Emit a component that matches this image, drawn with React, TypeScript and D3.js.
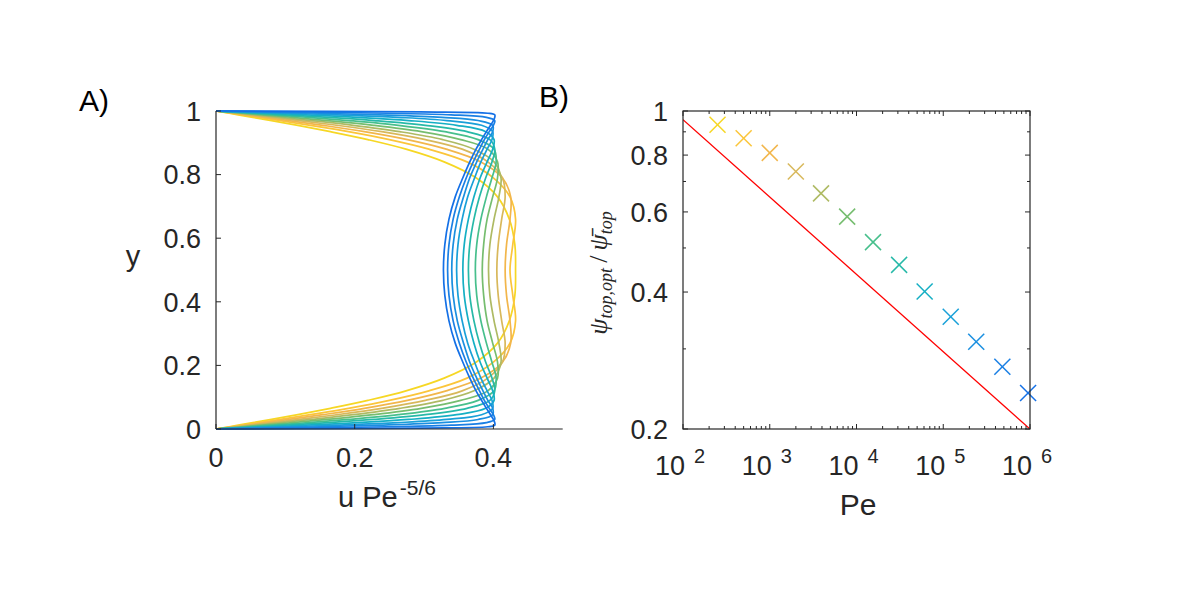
import React from 'react';
import * as d3 from 'd3';

// ---------- Panel A: velocity profiles ----------
// Wall-normal coordinate shared by every profile.
const Y_GRID = [0, 0.003, 0.007, 0.012, 0.02, 0.03, 0.045, 0.065, 0.09, 0.12, 0.16, 0.21, 0.27, 0.34, 0.42, 0.5,
  0.58, 0.66, 0.73, 0.79, 0.84, 0.88, 0.91, 0.935, 0.955, 0.97, 0.98, 0.988, 0.993, 0.997, 1];

// Scaled velocity u Pe^-5/6 at each Y_GRID point, one array per Péclet number.
const U_PE_250 = [0, 0.008, 0.019, 0.032, 0.053, 0.080, 0.118, 0.165, 0.219, 0.274, 0.329, 0.375, 0.406, 0.423, 0.431, 0.432,
  0.431, 0.423, 0.406, 0.375, 0.329, 0.274, 0.219, 0.165, 0.118, 0.080, 0.053, 0.032, 0.019, 0.008, 0];
const U_PE_500 = [0, 0.009, 0.022, 0.038, 0.062, 0.093, 0.136, 0.191, 0.250, 0.307, 0.362, 0.400, 0.424, 0.432, 0.428, 0.424,
  0.428, 0.432, 0.424, 0.400, 0.362, 0.307, 0.250, 0.191, 0.136, 0.093, 0.062, 0.038, 0.022, 0.009, 0];
const U_PE_1000 = [0, 0.011, 0.025, 0.043, 0.071, 0.105, 0.154, 0.214, 0.276, 0.332, 0.382, 0.413, 0.425, 0.424, 0.419, 0.417,
  0.419, 0.424, 0.425, 0.413, 0.382, 0.332, 0.276, 0.214, 0.154, 0.105, 0.071, 0.043, 0.025, 0.011, 0];
const U_PE_2000 = [0, 0.012, 0.029, 0.049, 0.081, 0.120, 0.175, 0.239, 0.302, 0.355, 0.392, 0.413, 0.417, 0.412, 0.407, 0.405,
  0.407, 0.412, 0.417, 0.413, 0.392, 0.355, 0.302, 0.239, 0.175, 0.120, 0.081, 0.049, 0.029, 0.012, 0];
const U_PE_4000 = [0, 0.014, 0.033, 0.057, 0.093, 0.137, 0.198, 0.265, 0.327, 0.372, 0.401, 0.411, 0.408, 0.401, 0.395, 0.393,
  0.395, 0.401, 0.408, 0.411, 0.401, 0.372, 0.327, 0.265, 0.198, 0.137, 0.093, 0.057, 0.033, 0.014, 0];
const U_PE_8000 = [0, 0.017, 0.039, 0.067, 0.110, 0.160, 0.227, 0.296, 0.353, 0.392, 0.406, 0.406, 0.399, 0.391, 0.386, 0.384,
  0.386, 0.391, 0.399, 0.406, 0.406, 0.392, 0.353, 0.296, 0.227, 0.160, 0.110, 0.067, 0.039, 0.017, 0];
const U_PE_16000 = [0, 0.021, 0.048, 0.081, 0.133, 0.191, 0.263, 0.330, 0.378, 0.401, 0.404, 0.398, 0.390, 0.382, 0.376, 0.374,
  0.376, 0.382, 0.390, 0.398, 0.404, 0.401, 0.378, 0.330, 0.263, 0.191, 0.133, 0.081, 0.048, 0.021, 0];
const U_PE_32000 = [0, 0.026, 0.059, 0.100, 0.162, 0.228, 0.302, 0.362, 0.395, 0.402, 0.398, 0.389, 0.380, 0.372, 0.366, 0.364,
  0.366, 0.372, 0.380, 0.389, 0.398, 0.402, 0.395, 0.362, 0.302, 0.228, 0.162, 0.100, 0.059, 0.026, 0];
const U_PE_64000 = [0, 0.034, 0.078, 0.130, 0.204, 0.278, 0.347, 0.389, 0.401, 0.399, 0.391, 0.381, 0.372, 0.364, 0.358, 0.356,
  0.358, 0.364, 0.372, 0.381, 0.391, 0.399, 0.401, 0.389, 0.347, 0.278, 0.204, 0.130, 0.078, 0.034, 0];
const U_PE_128000 = [0, 0.046, 0.106, 0.174, 0.262, 0.333, 0.383, 0.399, 0.398, 0.391, 0.382, 0.373, 0.363, 0.355, 0.349, 0.347,
  0.349, 0.355, 0.363, 0.373, 0.382, 0.391, 0.398, 0.399, 0.383, 0.333, 0.262, 0.174, 0.106, 0.046, 0];
const U_PE_256000 = [0, 0.067, 0.150, 0.236, 0.326, 0.378, 0.399, 0.399, 0.392, 0.385, 0.376, 0.366, 0.357, 0.348, 0.342, 0.340,
  0.342, 0.348, 0.357, 0.366, 0.376, 0.385, 0.392, 0.399, 0.399, 0.378, 0.326, 0.236, 0.150, 0.067, 0];
const U_PE_512000 = [0, 0.119, 0.247, 0.339, 0.390, 0.402, 0.400, 0.394, 0.387, 0.380, 0.371, 0.361, 0.351, 0.342, 0.336, 0.334,
  0.336, 0.342, 0.351, 0.361, 0.371, 0.380, 0.387, 0.394, 0.400, 0.402, 0.390, 0.339, 0.247, 0.119, 0];
const U_PE_1000000 = [0, 0.294, 0.392, 0.402, 0.402, 0.400, 0.396, 0.390, 0.383, 0.375, 0.366, 0.356, 0.345, 0.336, 0.330, 0.328,
  0.330, 0.336, 0.345, 0.356, 0.366, 0.375, 0.383, 0.390, 0.396, 0.400, 0.402, 0.402, 0.392, 0.294, 0];

const PROFILES = [U_PE_250, U_PE_500, U_PE_1000, U_PE_2000, U_PE_4000, U_PE_8000, U_PE_16000,
  U_PE_32000, U_PE_64000, U_PE_128000, U_PE_256000, U_PE_512000, U_PE_1000000];

// One colour per Péclet number, low Pe (yellow) to high Pe (blue).
const PE_COLORS = ['#f6d724', '#fbc53a', '#f2b64b', '#d8b85b', '#aeba63', '#76bd6f', '#47bf8c', '#26b9a8',
  '#15afc4', '#19a0d8', '#1a8fe0', '#1a7fe4', '#1470e6'];

const A_X_TICKS = [0, 0.2, 0.4];
const A_Y_TICKS = [0, 0.2, 0.4, 0.6, 0.8, 1];

// ---------- Panel B: optimal streamfunction ratio ----------
const PE = [250, 500, 1000, 2000, 3900, 7800, 15500, 31000, 61000, 122000, 240000, 480000, 950000];
const PSI_RATIO = [0.933, 0.871, 0.809, 0.736, 0.659, 0.586, 0.515, 0.459, 0.401, 0.353, 0.311, 0.274, 0.240];
// Reference power law, drawn between its end points.
const FIT_PE = [100, 1000000];
const FIT_RATIO = [0.957, 0.2];

const B_X_TICKS = [1e2, 1e3, 1e4, 1e5, 1e6];
const B_X_EXPONENTS = ['2', '3', '4', '5', '6'];
const B_Y_TICKS = [0.2, 0.4, 0.6, 0.8, 1];
const B_Y_LABELS = ['0.2', '0.4', '0.6', '0.8', '1'];
const B_Y_MINOR = [0.3, 0.5, 0.7, 0.9];

const AXIS = '#262626';
const FONT = 'Liberation Sans, Arial, Helvetica, sans-serif';

export default function App() {
  // Panel A geometry
  const ax = d3.scaleLinear().domain([0, 0.5]).range([216, 562.7]);
  const ay = d3.scaleLinear().domain([0, 1]).range([429, 111]);

  // Panel B geometry
  const bx = d3.scaleLog().domain([1e2, 1e6]).range([683, 1030]);
  const by = d3.scaleLog().domain([0.2, 1]).range([429, 111]);

  const profileLine = d3.line<[number, number]>()
    .x(d => ax(d[0]))
    .y(d => ay(d[1]))
    .curve(d3.curveCatmullRom.alpha(0.5));

  const fitLine = d3.line<number>()
    .x((_, i) => bx(FIT_PE[i]))
    .y(d => by(d));

  const bMinorX: number[] = [];
  for (let dec = 2; dec < 6; dec++) {
    for (let m = 2; m <= 9; m++) bMinorX.push(m * Math.pow(10, dec));
  }

  const [bx0, bx1] = bx.range();
  const [by0, by1] = by.range();
  const tickMajor = 5;
  const tickMinor = 3;
  const markerHalf = 8;
  const tickFont = 27;

  return (
    <svg width={1200} height={600} style={{ position: 'absolute', left: 0, top: 0, background: '#fff' }}
      fontFamily={FONT}>
      <rect x={0} y={0} width={1200} height={600} fill="#fff" />

      {/* ---------------- Panel A ---------------- */}
      <text x={79} y={111} fontSize={30} fill="#000">A)</text>
      <g>
        {PROFILES.map((u, k) => (
          <path key={k}
            d={profileLine(u.map((v, i) => [v, Y_GRID[i]] as [number, number])) || ''}
            fill="none" stroke={PE_COLORS[k]} strokeWidth={1.7} />
        ))}
      </g>
      {/* axes */}
      <line x1={ax(0)} x2={ax(0)} y1={ay(0)} y2={ay(1)} stroke={AXIS} strokeWidth={1.2} />
      <line x1={ax(0)} x2={ax(0.5)} y1={ay(0)} y2={ay(0)} stroke={AXIS} strokeWidth={1.2} />
      {A_Y_TICKS.map(t => (
        <g key={'ay' + t}>
          <line x1={ax(0)} x2={ax(0) + tickMajor} y1={ay(t)} y2={ay(t)} stroke={AXIS} strokeWidth={1} />
          <text x={201} y={ay(t)} dy="0.36em" textAnchor="end" fontSize={tickFont} fill={AXIS}>{String(t)}</text>
        </g>
      ))}
      {A_X_TICKS.map(t => (
        <g key={'ax' + t}>
          <line x1={ax(t)} x2={ax(t)} y1={ay(0)} y2={ay(0) - tickMajor} stroke={AXIS} strokeWidth={1} />
          <text x={ax(t)} y={467} textAnchor="middle" fontSize={tickFont} fill={AXIS}>{String(t)}</text>
        </g>
      ))}
      <text x={133} y={266} textAnchor="middle" fontSize={29} fill={AXIS}>y</text>
      <text x={387} y={507} textAnchor="middle" fontSize={29} fill={AXIS}>
        u Pe<tspan dx={2} dy={-12} fontSize={21}>-5/6</tspan>
      </text>

      {/* ---------------- Panel B ---------------- */}
      <text x={539} y={107} fontSize={30} fill="#000">B)</text>
      <defs>
        <clipPath id="clipB">
          <rect x={bx0} y={by1} width={bx1 - bx0} height={by0 - by1} />
        </clipPath>
      </defs>
      <path d={fitLine(FIT_RATIO) || ''} fill="none" stroke="#ff0000" strokeWidth={1.3} clipPath="url(#clipB)" />
      {PE.map((p, i) => {
        const cx = bx(p);
        const cy = by(PSI_RATIO[i]);
        return (
          <g key={'m' + i} stroke={PE_COLORS[i]} strokeWidth={1.5}>
            <line x1={cx - markerHalf} y1={cy - markerHalf} x2={cx + markerHalf} y2={cy + markerHalf} />
            <line x1={cx - markerHalf} y1={cy + markerHalf} x2={cx + markerHalf} y2={cy - markerHalf} />
          </g>
        );
      })}
      <rect x={bx0} y={by1} width={bx1 - bx0} height={by0 - by1} fill="none" stroke={AXIS} strokeWidth={1.2} />
      {B_X_TICKS.map(t => (
        <g key={'bxt' + t}>
          <line x1={bx(t)} x2={bx(t)} y1={by0} y2={by0 - tickMajor} stroke={AXIS} strokeWidth={1} />
          <line x1={bx(t)} x2={bx(t)} y1={by1} y2={by1 + tickMajor} stroke={AXIS} strokeWidth={1} />
        </g>
      ))}
      {bMinorX.map(t => (
        <g key={'bxm' + t}>
          <line x1={bx(t)} x2={bx(t)} y1={by0} y2={by0 - tickMinor} stroke={AXIS} strokeWidth={1} />
          <line x1={bx(t)} x2={bx(t)} y1={by1} y2={by1 + tickMinor} stroke={AXIS} strokeWidth={1} />
        </g>
      ))}
      {B_Y_TICKS.map(t => (
        <g key={'byt' + t}>
          <line x1={bx0} x2={bx0 + tickMajor} y1={by(t)} y2={by(t)} stroke={AXIS} strokeWidth={1} />
          <line x1={bx1} x2={bx1 - tickMajor} y1={by(t)} y2={by(t)} stroke={AXIS} strokeWidth={1} />
        </g>
      ))}
      {B_Y_MINOR.map(t => (
        <g key={'bym' + t}>
          <line x1={bx0} x2={bx0 + tickMinor} y1={by(t)} y2={by(t)} stroke={AXIS} strokeWidth={1} />
          <line x1={bx1} x2={bx1 - tickMinor} y1={by(t)} y2={by(t)} stroke={AXIS} strokeWidth={1} />
        </g>
      ))}
      {B_Y_TICKS.map((t, i) => (
        <text key={'byl' + t} x={668} y={by(t)} dy="0.36em" textAnchor="end" fontSize={tickFont} fill={AXIS}>
          {B_Y_LABELS[i]}
        </text>
      ))}
      {B_X_TICKS.map((t, i) => (
        <text key={'bxl' + t} x={bx(t) - 3} y={475} textAnchor="middle" fontSize={tickFont} fill={AXIS}>
          10<tspan dx={9} dy={-12} fontSize={20}>{B_X_EXPONENTS[i]}</tspan>
        </text>
      ))}
      <text x={858} y={515} textAnchor="middle" fontSize={30} fill={AXIS}>Pe</text>
      <text transform="translate(607,273) rotate(-90)" textAnchor="middle"
        fontFamily="Liberation Serif, DejaVu Serif, serif" fontStyle="italic" fontSize={26} fill={AXIS}>
        {'\u03C8'}<tspan dy={5} fontSize={18}>top,opt</tspan>
        <tspan dy={-5} fontStyle="normal">{'\u2009/\u2009'}</tspan>
        {'\u03C8\u0304'}<tspan dy={5} fontSize={18}>top</tspan>
      </text>
    </svg>
  );
}
